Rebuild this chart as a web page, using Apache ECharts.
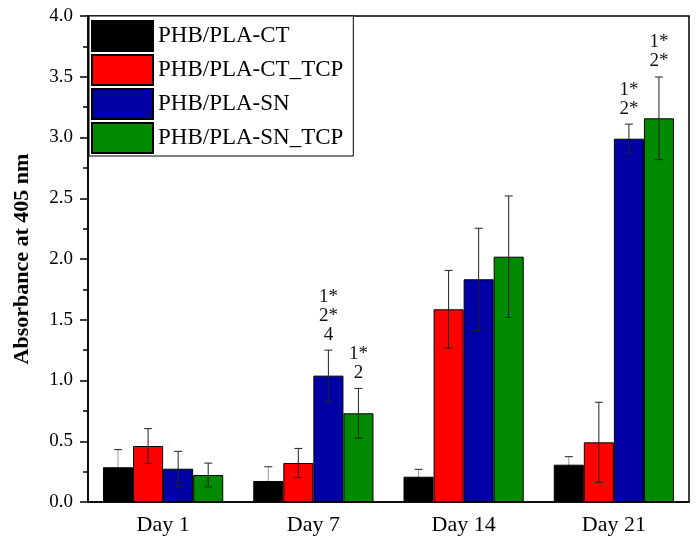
<!DOCTYPE html>
<html>
<head>
<meta charset="utf-8">
<script src="https://cdn.jsdelivr.net/npm/echarts@6/dist/echarts.min.js"></script>
<style>html,body{margin:0;padding:0;background:#fff}#c{width:698px;height:547px}</style>
</head>
<body>
<div id="c"></div>
<script>
var days = ['Day 1', 'Day 7', 'Day 14', 'Day 21'];
var seriesNames = ['PHB/PLA-CT', 'PHB/PLA-CT_TCP', 'PHB/PLA-SN', 'PHB/PLA-SN_TCP'];
var ctValues = [0.286, 0.173, 0.208, 0.307];
var ctErrors = [0.145, 0.117, 0.061, 0.066];
var ctTcpValues = [0.461, 0.321, 1.586, 0.491];
var ctTcpErrors = [0.143, 0.120, 0.320, 0.330];
var snValues = [0.274, 1.040, 1.833, 2.990];
var snErrors = [0.143, 0.210, 0.420, 0.120];
var snTcpValues = [0.222, 0.730, 2.019, 3.158];
var snTcpErrors = [0.098, 0.205, 0.500, 0.340];
var ctNotes = ['', '', '', ''];
var ctTcpNotes = ['', '', '', ''];
var snNotes = ['', '1*\n2*\n4', '', '1*\n2*'];
var snTcpNotes = ['', '1*\n2', '', '1*\n2*'];
var yTicks = [0, 0.5, 1, 1.5, 2, 2.5, 3, 3.5, 4];

var colors = ['#000000', '#ff0000', '#0000a5', '#008a00'];
var allValues = [ctValues, ctTcpValues, snValues, snTcpValues];
var allErrors = [ctErrors, ctTcpErrors, snErrors, snTcpErrors];
var allNotes = [ctNotes, ctTcpNotes, snNotes, snTcpNotes];
var FONT = "'Liberation Serif', 'Times New Roman', serif";

var series = [];
seriesNames.forEach(function (name, s) {
  series.push({
    name: name,
    type: 'bar',
    barGap: '0%',
    barCategoryGap: '20%',
    data: allValues[s],
    itemStyle: { color: colors[s], borderColor: '#000', borderWidth: 1 },
    z: 2
  });
});
seriesNames.forEach(function (name, s) {
  var data = allValues[s].map(function (v, i) { return [i, v, allErrors[s][i]]; });
  series.push({
    name: 'err' + s,
    type: 'custom',
    silent: true,
    z: 5,
    clip: false,
    encode: { x: 0, y: 1 },
    data: data,
    renderItem: function (params, api) {
      var i = api.value(0), v = api.value(1), e = api.value(2);
      var note = allNotes[s][i];
      var catW = api.size([1, 0])[0];
      var bw = catW * 0.8 / 4;
      var c = api.coord([i, v]);
      var x = c[0] + (s - 1.5) * bw;
      var mid = c[1];
      var top = api.coord([i, v + e])[1];
      var bot = api.coord([i, v - e])[1];
      var capHalf = 4;
      var upperColor = s === 0 ? '#9a9a9a' : '#222';
      var lowerColor = s === 0 ? '#000' : '#222';
      var children = [
        { type: 'line', shape: { x1: x, y1: top, x2: x, y2: mid }, style: { stroke: upperColor, lineWidth: 1 } },
        { type: 'line', shape: { x1: x, y1: mid, x2: x, y2: bot }, style: { stroke: lowerColor, lineWidth: 1 } },
        { type: 'line', shape: { x1: x - capHalf, y1: top, x2: x + capHalf, y2: top }, style: { stroke: '#222', lineWidth: 1 } },
        { type: 'line', shape: { x1: x - capHalf, y1: bot, x2: x + capHalf, y2: bot }, style: { stroke: lowerColor, lineWidth: 1 } }
      ];
      if (note) {
        children.push({
          type: 'text',
          style: {
            text: note, x: x, y: top - 6, align: 'center', verticalAlign: 'bottom',
            font: '19px ' + FONT, fill: '#111', lineHeight: 19
          }
        });
      }
      return { type: 'group', children: children };
    }
  });
});

var chart = echarts.init(document.getElementById('c'), null, { renderer: 'canvas' });
chart.setOption({
  animation: false,
  backgroundColor: '#fff',
  textStyle: { fontFamily: FONT },
  grid: { left: 88, right: 9, top: 16, bottom: 45, show: true, borderColor: '#000', borderWidth: 1.5, backgroundColor: 'transparent' },
  legend: {
    data: seriesNames,
    orient: 'vertical',
    left: 89, top: 16,
    padding: [4, 10, 2, 2],
    itemWidth: 61, itemHeight: 30, itemGap: 2,
    borderColor: '#000', borderWidth: 1,
    backgroundColor: '#fff',
    icon: 'rect',
    textStyle: { fontSize: 23, lineHeight: 30, color: '#000', fontFamily: FONT }
  },
  xAxis: [{
    type: 'category',
    data: days,
    axisLine: { lineStyle: { color: '#000', width: 1.5 } },
    axisTick: { alignWithLabel: true, length: 8, lineStyle: { color: '#000', width: 1.5 } },
    axisLabel: { fontSize: 22, color: '#000', fontFamily: FONT, margin: 12 }
  }, {
    type: 'category',
    data: days,
    position: 'bottom',
    axisLine: { show: false },
    axisTick: { length: 5, lineStyle: { color: '#000', width: 1.5 } },
    axisLabel: { show: false }
  }],
  yAxis: {
    type: 'value',
    min: 0, max: 4, interval: 0.5,
    name: 'Absorbance at 405 nm',
    nameLocation: 'middle',
    nameGap: 55,
    nameTextStyle: { fontSize: 22, fontWeight: 'bold', color: '#000', fontFamily: FONT },
    axisLine: { show: true, lineStyle: { color: '#000', width: 1.5 } },
    axisTick: { show: true, length: 8, lineStyle: { color: '#000', width: 1.5 } },
    minorTick: { show: true, splitNumber: 2, length: 5, lineStyle: { color: '#000', width: 1.5 } },
    splitLine: { show: false },
    axisLabel: {
      fontSize: 19, color: '#000', fontFamily: FONT, margin: 15,
      formatter: function (v) { return yTicks.indexOf(v) >= 0 ? v.toFixed(1) : ''; }
    }
  },
  series: series
});
</script>
</body>
</html>
